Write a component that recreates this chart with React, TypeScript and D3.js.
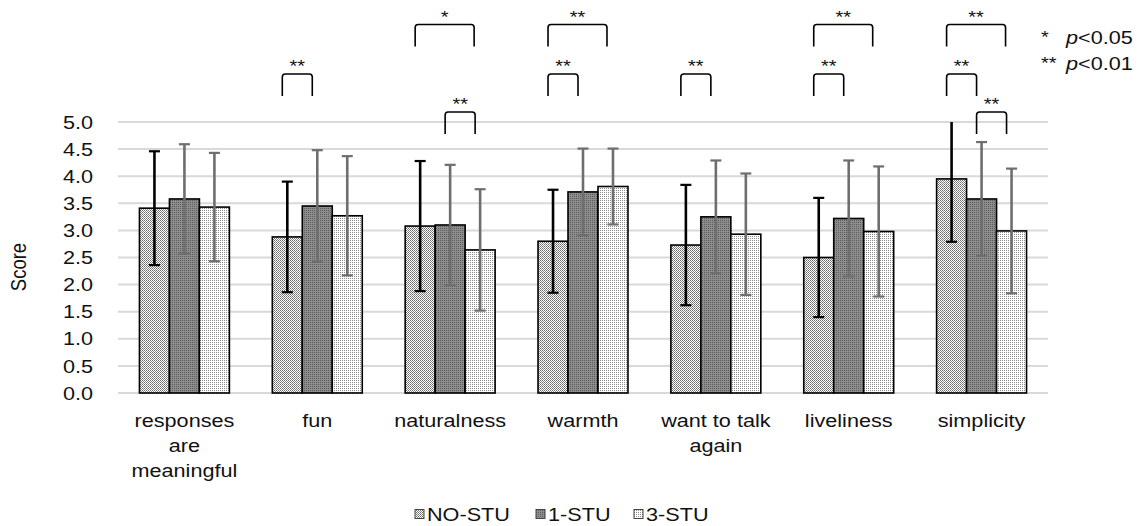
import React from 'react'
import * as d3 from 'd3'

// ===== data =====
const categories = ['responses are meaningful', 'fun', 'naturalness', 'warmth', 'want to talk again', 'liveliness', 'simplicity']
const categoryLines = [['responses', 'are', 'meaningful'], ['fun'], ['naturalness'], ['warmth'], ['want to talk', 'again'], ['liveliness'], ['simplicity']]
const series = ['NO-STU', '1-STU', '3-STU']

const meanNoStu = [3.41, 2.88, 3.08, 2.80, 2.73, 2.50, 3.95]
const mean1Stu = [3.58, 3.45, 3.10, 3.71, 3.25, 3.22, 3.58]
const mean3Stu = [3.43, 3.27, 2.64, 3.81, 2.93, 2.98, 2.99]
const sdNoStu = [1.05, 1.02, 1.20, 0.95, 1.11, 1.10, 1.16]
const sd1Stu = [1.01, 1.03, 1.11, 0.80, 1.04, 1.07, 1.05]
const sd3Stu = [1.00, 1.10, 1.12, 0.70, 1.12, 1.20, 1.15]

const yTicks = [0, 0.5, 1, 1.5, 2, 2.5, 3, 3.5, 4, 4.5, 5]

// significance brackets: category, from series, to series, label, level (0 = top)
const brackets = [
  { cat: 'fun', from: 0, to: 1, label: '**', level: 1 },
  { cat: 'naturalness', from: 0, to: 2, label: '*', level: 0 },
  { cat: 'naturalness', from: 1, to: 2, label: '**', level: 2 },
  { cat: 'warmth', from: 0, to: 2, label: '**', level: 0 },
  { cat: 'warmth', from: 0, to: 1, label: '**', level: 1 },
  { cat: 'want to talk again', from: 0, to: 1, label: '**', level: 1 },
  { cat: 'liveliness', from: 0, to: 2, label: '**', level: 0 },
  { cat: 'liveliness', from: 0, to: 1, label: '**', level: 1 },
  { cat: 'simplicity', from: 0, to: 2, label: '**', level: 0 },
  { cat: 'simplicity', from: 0, to: 1, label: '**', level: 1 },
  { cat: 'simplicity', from: 1, to: 2, label: '**', level: 2 },
]

const means = [meanNoStu, mean1Stu, mean3Stu]
const sds = [sdNoStu, sd1Stu, sd3Stu]

// ===== layout =====
const W = 1142
const H = 526
const left = 118
const right = 1048
const top = 122
const bottom = 393
const FS = 18.5
const SX = 1.17 // source picture is stretched horizontally
const font = '"Liberation Sans", Arial, sans-serif'
const ink = '#111'

const levelY = [24.5, 74, 112]
const fills = ['url(#pNo)', 'url(#p1)', 'url(#p3)']
const errColor = ['#000', '#6e6e6e', '#6e6e6e']

function T({ x, y, anchor = 'middle', rotate = 0, children, size = FS }: any) {
  return (
    <text
      transform={`translate(${x},${y}) scale(${SX},1)${rotate ? ` rotate(${rotate})` : ''}`}
      textAnchor={anchor}
      fontFamily={font}
      fontSize={size}
      fill={ink}>
      {children}
    </text>
  )
}

export default function App() {
  const x0 = d3.scaleBand<string>().domain(categories).range([left, right]).padding(0)
  const groupW = x0.bandwidth() * 0.677
  const x1 = d3.scaleBand<string>().domain(series).range([0, groupW]).padding(0)
  const y = d3.scaleLinear().domain([0, 5]).range([bottom, top])

  const barX = (ci: number, si: number) => x0(categories[ci])! + (x0.bandwidth() - groupW) / 2 + x1(series[si])!
  const barC = (ci: number, si: number) => barX(ci, si) + x1.bandwidth() / 2

  const bracketPath = (x1p: number, x2p: number, yy: number) => {
    const r = 3
    const d = 22
    return `M${x1p},${yy + d} L${x1p},${yy + r} Q${x1p},${yy} ${x1p + r},${yy} L${x2p - r},${yy} Q${x2p},${yy} ${x2p},${yy + r} L${x2p},${yy + d}`
  }

  const legendX = [415, 536, 634]

  return (
    <svg width={W} height={H} style={{ position: 'absolute', left: 0, top: 0, background: '#fff' }}>
      <defs>
        <pattern id="pNo" patternUnits="userSpaceOnUse" width="2" height="2">
          <rect width="2" height="2" fill="#fff" />
          <rect x="0" y="0" width="1" height="1" fill="#6a6a6a" />
          <rect x="1" y="1" width="1" height="1" fill="#8a8a8a" />
        </pattern>
        <pattern id="p1" patternUnits="userSpaceOnUse" width="2" height="2">
          <rect width="2" height="2" fill="#8e8e8e" />
          <rect x="0" y="0" width="1" height="1" fill="#5a5a5a" />
        </pattern>
        <pattern id="p3" patternUnits="userSpaceOnUse" width="2" height="2">
          <rect width="2" height="2" fill="#fff" />
          <rect x="0" y="0" width="1" height="1" fill="#8c8c8c" />
        </pattern>
      </defs>

      {/* gridlines */}
      {yTicks.map(t => (
        <line key={t} x1={left} x2={right} y1={y(t)} y2={y(t)} stroke="#d9d9d9" strokeWidth={2} />
      ))}

      {/* y tick labels */}
      {yTicks.map(t => (
        <T key={t} x={93} y={y(t) + 6.6} anchor="end">{d3.format('.1f')(t)}</T>
      ))}
      <T x={25.5} y={267} rotate={-90}>Score</T>

      {/* bars */}
      {series.map((s, si) =>
        categories.map((c, ci) => (
          <rect key={s + c}
            x={barX(ci, si)} width={x1.bandwidth()}
            y={y(means[si][ci])} height={y(0) - y(means[si][ci])}
            fill={fills[si]} stroke="#000" strokeWidth={1.6} />
        ))
      )}

      {/* error bars */}
      {series.map((s, si) =>
        categories.map((c, ci) => {
          const m = means[si][ci]
          const hi = m + sds[si][ci]
          const lo = m - sds[si][ci]
          const cx = barC(ci, si)
          const clipped = hi > 5
          const yHi = y(Math.min(hi, 5))
          return (
            <g key={'e' + s + c} stroke={errColor[si]}>
              <line x1={cx} x2={cx} y1={yHi} y2={y(lo)} strokeWidth={2.6} />
              {!clipped && <line x1={cx - 5.5} x2={cx + 5.5} y1={yHi} y2={yHi} strokeWidth={2.2} />}
              <line x1={cx - 5.5} x2={cx + 5.5} y1={y(lo)} y2={y(lo)} strokeWidth={2.2} />
            </g>
          )
        })
      )}

      {/* category labels */}
      {categoryLines.map((lines, ci) =>
        lines.map((l, li) => (
          <T key={ci + '-' + li} x={x0(categories[ci])! + x0.bandwidth() / 2} y={427 + li * 25}>{l}</T>
        ))
      )}

      {/* significance brackets */}
      {brackets.map((b, i) => {
        const ci = categories.indexOf(b.cat)
        const xa = barC(ci, b.from) - 5
        const xb = barC(ci, b.to) - 5 - (b.to - b.from > 1 ? 1 : 0)
        const yy = levelY[b.level]
        return (
          <g key={'b' + i}>
            <path d={bracketPath(xa, xb, yy)} fill="none" stroke="#000" strokeWidth={1.6} />
            <T x={(xa + xb) / 2} y={yy - 2} size={17}>{b.label}</T>
          </g>
        )
      })}

      {/* p-value key */}
      <T x={1041} y={43} anchor="start" size={17}>*</T>
      <T x={1066} y={43.5} anchor="start"><tspan fontStyle="italic">p</tspan>{'<0.05'}</T>
      <T x={1041} y={69} anchor="start" size={17}>**</T>
      <T x={1066} y={69.5} anchor="start"><tspan fontStyle="italic">p</tspan>{'<0.01'}</T>

      {/* legend */}
      {series.map((s, si) => (
        <g key={'l' + s}>
          <rect x={legendX[si]} y={509.5} width={9} height={9} fill={fills[si]} stroke="#444" strokeWidth={1} />
          <T x={legendX[si] + 12} y={520.5} anchor="start">{s}</T>
        </g>
      ))}
    </svg>
  )
}
